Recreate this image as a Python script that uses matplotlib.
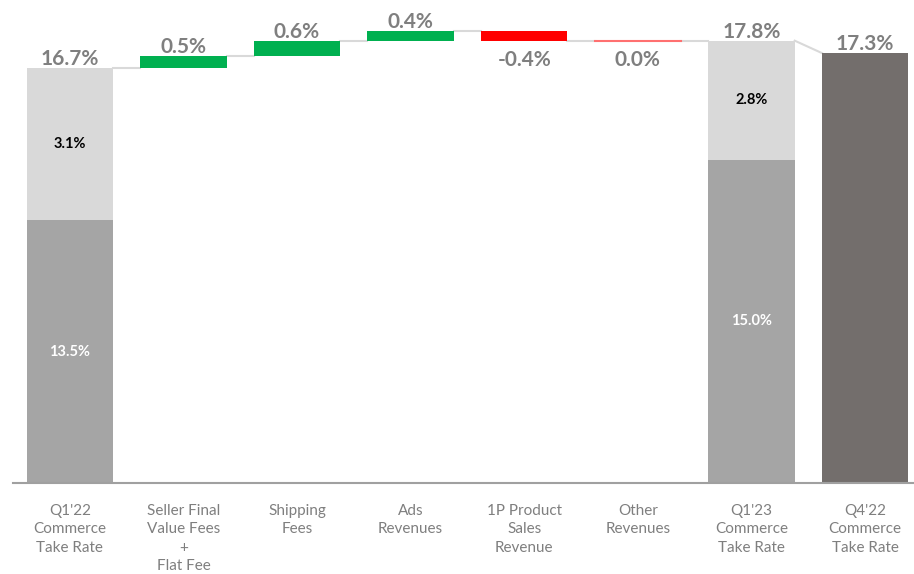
import matplotlib.pyplot as plt

# Waterfall of commerce take rate, Q1'22 -> Q1'23, with Q4'22 for comparison
categories = ["Q1'22\nCommerce\nTake Rate", "Seller Final\nValue Fees\n+\nFlat Fee",
              "Shipping\nFees", "Ads\nRevenues", "1P Product\nSales\nRevenue",
              "Other\nRevenues", "Q1'23\nCommerce\nTake Rate", "Q4'22\nCommerce\nTake Rate"]
start_total = 16.7
changes = [0.5, 0.6, 0.4, -0.4, 0.0]
end_total = 17.8
compare_total = 17.3
change_labels = ["0.5%", "0.6%", "0.4%", "-0.4%", "0.0%"]

# split of the two quarterly bars (label values, and height of the lower block as drawn)
split_labels_low = ["13.5%", "15.0%"]
split_labels_high = ["3.1%", "2.8%"]
split_drawn_low = [10.58, 13.0]

grey_txt = '#7f7f7f'
light = '#d9d9d9'
mid = '#a5a5a5'
dark = '#736e6c'
green = '#00b050'
red = '#ff0000'
conn = '#d9d9d9'

plt.rcParams['font.family'] = ['Lato', 'DejaVu Sans']

fig = plt.figure(figsize=(9.14, 5.74), dpi=100)
ax = fig.add_axes([13 / 914, 91 / 574, 901 / 914, 483 / 574])
ax.set_xlim(-0.5, 7.43)
ax.set_ylim(0, 483 / 24.85)
w = 0.76
up = -0.05    # gap above a bar for its label
down = 0.36   # gap below a falling bar for its label

# opening bar
ax.bar(0, split_drawn_low[0], w, color=mid, zorder=2)
ax.bar(0, start_total - split_drawn_low[0], w, bottom=split_drawn_low[0], color=light, zorder=2)
ax.text(0, split_drawn_low[0] / 2, split_labels_low[0], ha='center', va='center',
        color='white', fontsize=10.5, fontweight='bold')
ax.text(0, (start_total + split_drawn_low[0]) / 2, split_labels_high[0], ha='center',
        va='center', color='black', fontsize=10.5, fontweight='bold')
ax.text(0, start_total + up, f"{start_total}%", ha='center', va='bottom',
        color=grey_txt, fontsize=15, fontweight='bold')

# steps
level = start_total
for i, (d, lab) in enumerate(zip(changes, change_labels)):
    x = i + 1
    ax.plot([x - 1 + w / 2, x - w / 2], [level, level], color=conn, lw=1.5, zorder=1)
    if d == 0:
        ax.plot([x - w / 2, x + w / 2], [level, level], color='#ff7070', lw=1.5, zorder=2)
        ax.text(x, level - down, lab, ha='center', va='top', color=grey_txt,
                fontsize=15, fontweight='bold')
    elif d > 0:
        ax.bar(x, d, w, bottom=level, color=green, zorder=2)
        ax.text(x, level + d + up, lab, ha='center', va='bottom', color=grey_txt,
                fontsize=15, fontweight='bold')
    else:
        ax.bar(x, d, w, bottom=level, color=red, zorder=2)
        ax.text(x, level + d - down, lab, ha='center', va='top', color=grey_txt,
                fontsize=15, fontweight='bold')
    level += d

# closing bar
ax.plot([5 + w / 2, 6 - w / 2], [level, level], color=conn, lw=1.5, zorder=1)
ax.bar(6, split_drawn_low[1], w, color=mid, zorder=2)
ax.bar(6, end_total - split_drawn_low[1], w, bottom=split_drawn_low[1], color=light, zorder=2)
ax.text(6, split_drawn_low[1] / 2, split_labels_low[1], ha='center', va='center',
        color='white', fontsize=10.5, fontweight='bold')
ax.text(6, (end_total + split_drawn_low[1]) / 2, split_labels_high[1], ha='center',
        va='center', color='black', fontsize=10.5, fontweight='bold')
ax.text(6, end_total + up, f"{end_total}%", ha='center', va='bottom',
        color=grey_txt, fontsize=15, fontweight='bold')

# comparison bar
ax.plot([6 + w / 2, 7 - w / 2], [end_total, compare_total], color=conn, lw=1.5, zorder=1)
ax.bar(7, compare_total, w, color=dark, zorder=2)
ax.text(7, compare_total + up, f"{compare_total}%", ha='center', va='bottom',
        color=grey_txt, fontsize=15, fontweight='bold')

ax.set_xticks(range(len(categories)))
ax.set_xticklabels(categories, color=grey_txt, fontsize=11, linespacing=1.4, va='top')
ax.tick_params(axis='x', length=0, pad=15)
ax.set_yticks([])
for s in ['top', 'right', 'left']:
    ax.spines[s].set_visible(False)
ax.spines['bottom'].set_color('#a0a0a0')
ax.spines['bottom'].set_linewidth(1.5)

plt.savefig('out.png', dpi=100)
